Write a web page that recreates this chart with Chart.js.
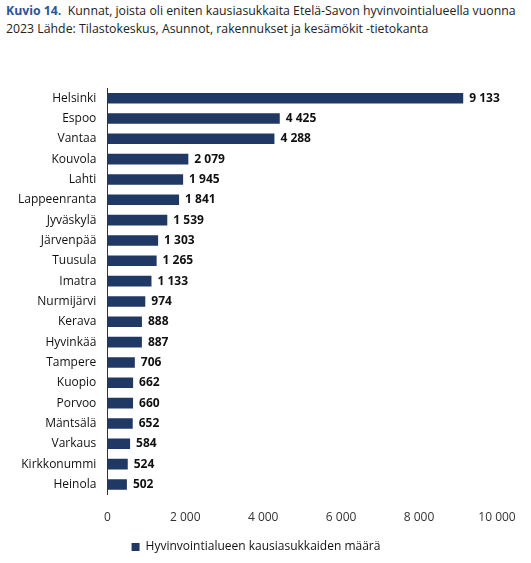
<!DOCTYPE html><html><head><meta charset="utf-8">
<script src="https://cdn.jsdelivr.net/npm/chart.js@4"></script>
<style>body{margin:0;width:531px;height:563px;font-family:"Open Sans",sans-serif;background:#fff;position:relative}
#t{position:absolute;left:6px;top:2px;width:525px;font-size:12.3px;line-height:18px;color:#222}
#t b{color:#2e5597}
#c{position:absolute;left:0;top:60px;width:531px;height:503px}</style></head><body>
<div id="t"><b>Kuvio 14.</b>&nbsp; Kunnat, joista oli eniten kausiasukkaita Etelä-Savon hyvinvointialueella vuonna 2023 Lähde: Tilastokeskus, Asunnot, rakennukset ja kesämökit -tietokanta</div>
<div id="c"><canvas id="cv"></canvas></div>
<script>
const categories=["Helsinki","Espoo","Vantaa","Kouvola","Lahti","Lappeenranta","Jyväskylä","Järvenpää","Tuusula","Imatra","Nurmijärvi","Kerava","Hyvinkää","Tampere","Kuopio","Porvoo","Mäntsälä","Varkaus","Kirkkonummi","Heinola"];
const values=[9133,4425,4288,2079,1945,1841,1539,1303,1265,1133,974,888,887,706,662,660,652,584,524,502];
const fmt=v=>String(v).replace(/\B(?=(\d{3})+(?!\d))/g," ");
const lbl={id:"lbl",afterDatasetsDraw(ch){const c=ch.ctx;const m=ch.getDatasetMeta(0);c.save();c.font="bold 12px 'Open Sans'";c.fillStyle="#111";c.textBaseline="middle";m.data.forEach((b,i)=>c.fillText(fmt(values[i]),b.x+6,b.y));c.restore();}};
new Chart(document.getElementById("cv"),{type:"bar",data:{labels:categories,datasets:[{label:"Hyvinvointialueen kausiasukkaiden määrä",data:values,backgroundColor:"#1f3864",barPercentage:0.52,categoryPercentage:1}]},
options:{indexAxis:"y",responsive:true,maintainAspectRatio:false,animation:false,layout:{padding:{top:28,right:34,left:15,bottom:0}},
scales:{x:{min:0,max:10000,ticks:{stepSize:2000,callback:v=>fmt(v),color:"#333",font:{size:12,family:"Open Sans"},padding:8},grid:{display:false},border:{display:false}},
y:{ticks:{color:"#111",font:{size:12,family:"Open Sans"}},grid:{display:false},border:{color:"#333"}}},
plugins:{legend:{position:"bottom",labels:{boxWidth:8,boxHeight:8,color:"#111",font:{size:12,family:"Open Sans"},padding:8}},tooltip:{enabled:false}}},plugins:[lbl]});
</script></body></html>
